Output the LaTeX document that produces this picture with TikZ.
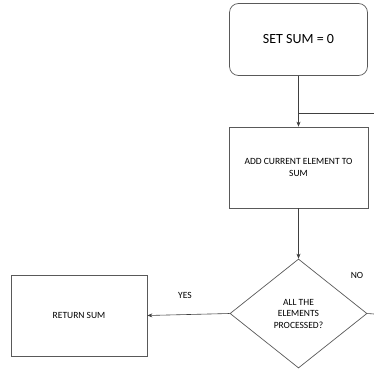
\documentclass[tikz,border=0pt]{standalone}
\usepackage{fontspec}
\setmainfont{Carlito}
\usetikzlibrary{shapes.geometric,arrows.meta}
\begin{document}
\begin{tikzpicture}[x=1pt,y=-1pt,
  line width=0.6pt,
  ln/.style={draw=black!75},
  box/.style={draw=black!65, line width=0.7pt, inner sep=0pt, align=center, font=\fontsize{9.5}{11.5}\selectfont},
  arr/.style={ln, -{Stealth[length=5pt,width=4pt]}},
  lbl/.style={font=\fontsize{9.5}{11.5}\selectfont}]
\useasboundingbox (0,0) rectangle (374,369);
\node[box, rounded corners=9pt, minimum width=138pt, minimum height=72pt, font=\fontsize{14}{17}\selectfont] (start) at (298.5,39.5) {SET SUM = 0};
\node[box, minimum width=139pt, minimum height=81pt] (add) at (298.5,167.5) {ADD CURRENT ELEMENT TO\\SUM};
\node[box, diamond, minimum width=137pt, minimum height=109pt, aspect=1.257] (dec) at (298.5,313.5) {ALL THE\\ELEMENTS\\PROCESSED?};
\node[box, minimum width=136pt, minimum height=81pt] (ret) at (79,315.5) {RETURN SUM};
\coordinate (loopin) at (374,113);
\coordinate (loopj) at (298.5,113);
\coordinate (noout) at (374,314);
\draw[arr] (start.south) -- (add.north);
\draw[ln] (loopin) -- (loopj);
\draw[arr] (add.south) -- (dec.north);
\draw[arr] (dec.west) -- (ret.east);
\draw[ln] (dec.east) -- (noout);
\node[lbl] (yes) at (185,295) {YES};
\node[lbl] (no) at (357,275) {NO};
\end{tikzpicture}
\end{document}
